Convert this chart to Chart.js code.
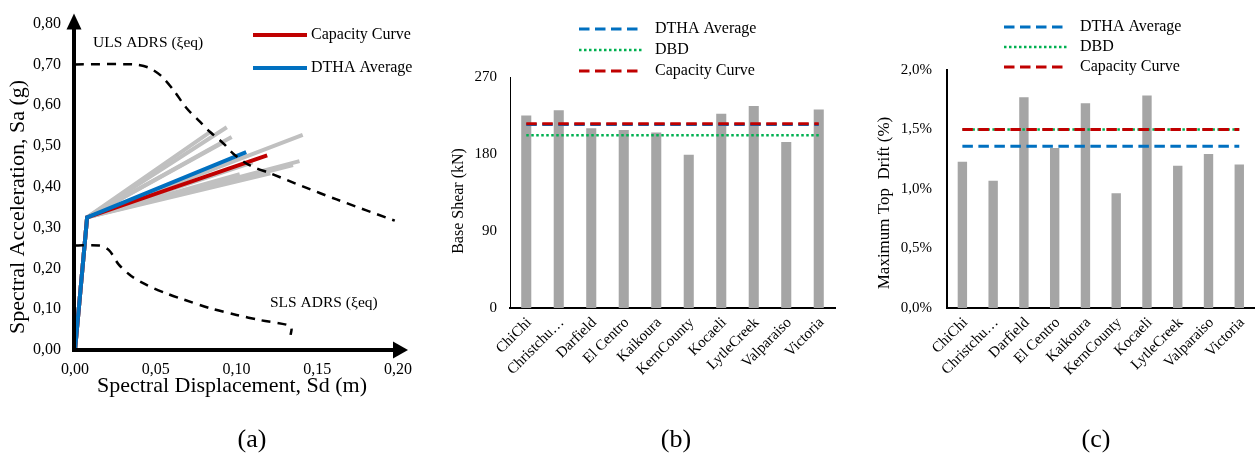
<!DOCTYPE html>
<html>
<head>
<meta charset="utf-8">
<script src="https://cdn.jsdelivr.net/npm/chart.js@4.4.1/dist/chart.umd.min.js"></script>
<style>
  body { margin: 0; background: #fff; }
  #wrap { position: relative; width: 1258px; height: 461px; font-family: "Liberation Serif", serif; }
  canvas { position: absolute; top: 0; }
  .tag { position: absolute; top: 424px; font-size: 26px; width: 60px; margin-left: -30px; text-align: center; color: #000; }
</style>
</head>
<body>
<div id="wrap">
  <canvas id="chartA" width="430" height="461" style="left:0;width:430px;height:461px"></canvas>
  <canvas id="chartB" width="420" height="461" style="left:430px;width:420px;height:461px"></canvas>
  <canvas id="chartC" width="408" height="461" style="left:850px;width:408px;height:461px"></canvas>
  <div class="tag" style="left:252px">(a)</div>
  <div class="tag" style="left:676px">(b)</div>
  <div class="tag" style="left:1096px">(c)</div>
</div>
<script>
// ── (a) Capacity curve vs ADRS ────────────────────────────────────────────────
const kneeSd = 0.0075, kneeSa = 0.325;
const capacitySd = [0, kneeSd, 0.119];
const capacitySa = [0, kneeSa, 0.477];
const dthaSd = [0, kneeSd, 0.106];
const dthaSa = [0, kneeSa, 0.485];
// end point of each record's response line (from the knee)
const recordEndSd = [0.094, 0.084, 0.097, 0.092, 0.141, 0.139, 0.135, 0.121, 0.102, 0.110];
const recordEndSa = [0.546, 0.535, 0.522, 0.509, 0.527, 0.463, 0.453, 0.433, 0.431, 0.460];
const ulsSd = [0, 0.036, 0.045, 0.053, 0.061, 0.069, 0.077, 0.0835, 0.092, 0.098, 0.108, 0.121, 0.141, 0.162, 0.198];
const ulsSa = [0.70, 0.70, 0.693, 0.673, 0.637, 0.593, 0.561, 0.535, 0.506, 0.481, 0.453, 0.433, 0.401, 0.369, 0.317];
const slsSd = [0, 0.015, 0.021, 0.027, 0.035, 0.044, 0.057, 0.067, 0.084, 0.100, 0.115, 0.131, 0.134, 0.1335];
const slsSa = [0.256, 0.256, 0.245, 0.210, 0.181, 0.160, 0.138, 0.124, 0.102, 0.086, 0.073, 0.062, 0.054, 0.037];

// ── (b),(c) per-record results ────────────────────────────────────────────────
const records = ['ChiChi', 'Christchu…', 'Darfield', 'El Centro', 'Kaikoura', 'KernCounty', 'Kocaeli', 'LytleCreek', 'Valparaiso', 'Victoria'];
const baseShear = [225, 231, 210, 208, 205, 179, 227, 236, 194, 232];
const shearDTHA = 214.5, shearDBD = 202, shearCapacity = 215.5;
const topDrift = [1.23, 1.07, 1.77, 1.345, 1.72, 0.965, 1.785, 1.195, 1.295, 1.205];
const driftDTHA = 1.36, driftDBD = 1.5, driftCapacity = 1.5;

const pts = (xs, ys) => xs.map((x, i) => ({ x, y: ys[i] }));
const comma = (v, d) => v.toFixed(d).replace('.', ',');

Chart.defaults.font.family = '"Liberation Serif", serif';
Chart.defaults.color = '#000';

const RED = '#c00000', BLUE = '#0070c0', GREEN = '#00b050', BAR = '#a5a5a5', LIGHT = '#c0c0c0';

// ── plugins ───────────────────────────────────────────────────────────────────
const texts = {
  id: 'texts',
  afterDraw(chart, args, o) {
    const ctx = chart.ctx;
    for (const t of o.items || []) {
      ctx.save();
      ctx.font = `${t.size}px "Liberation Serif"`;
      ctx.fillStyle = '#000';
      ctx.textAlign = t.align || 'center';
      ctx.textBaseline = 'middle';
      ctx.translate(t.x, t.y);
      if (t.rot) ctx.rotate(t.rot);
      ctx.fillText(t.text, 0, 0);
      ctx.restore();
    }
  },
};

const stackLegend = {
  id: 'stackLegend',
  afterDraw(chart, args, o) {
    if (!o.rows) return;
    const ctx = chart.ctx;
    o.rows.forEach((idx, i) => {
      const ds = chart.data.datasets[idx];
      const y = o.y + i * o.gap;
      ctx.save();
      ctx.strokeStyle = ds.borderColor;
      ctx.lineWidth = ds.borderWidth;
      ctx.setLineDash(ds.borderDash || []);
      ctx.beginPath();
      ctx.moveTo(o.x, y);
      ctx.lineTo(o.x + o.len, y);
      ctx.stroke();
      ctx.setLineDash([]);
      ctx.font = `${o.size}px "Liberation Serif"`;
      ctx.fillStyle = '#000';
      ctx.textBaseline = 'middle';
      ctx.fillText(ds.label, o.x + o.len + o.pad, y);
      ctx.restore();
    });
  },
};

const arrowAxes = {
  id: 'arrowAxes',
  afterDraw(chart) {
    const { ctx, chartArea: a, scales } = chart;
    const x0 = scales.x.getPixelForValue(0) - 1;
    const y0 = scales.y.getPixelForValue(0);
    ctx.save();
    ctx.strokeStyle = ctx.fillStyle = '#000';
    ctx.lineWidth = 4;
    ctx.beginPath();
    ctx.moveTo(x0, y0 + 2); ctx.lineTo(x0, a.top);
    ctx.moveTo(x0 - 2, y0); ctx.lineTo(a.right, y0);
    ctx.stroke();
    ctx.beginPath();
    ctx.moveTo(x0, a.top - 10); ctx.lineTo(x0 - 7.5, a.top + 6); ctx.lineTo(x0 + 7.5, a.top + 6);
    ctx.closePath(); ctx.fill();
    ctx.beginPath();
    ctx.moveTo(a.right + 10, y0); ctx.lineTo(a.right - 5, y0 - 8.5); ctx.lineTo(a.right - 5, y0 + 8.5);
    ctx.closePath(); ctx.fill();
    ctx.restore();
  },
};

const line = (label, xs, ys, color, width, order, dash) => ({
  label, data: pts(xs, ys), showLine: true, borderColor: color, backgroundColor: color,
  borderWidth: width, pointRadius: 0, order, borderDash: dash || [], tension: dash ? 0.3 : 0,
});

// ── Chart (a) ─────────────────────────────────────────────────────────────────
const recordLines = recordEndSd.map((sd, i) =>
  line('record ' + (i + 1), [0, kneeSd, sd], [0, kneeSa, recordEndSa[i]], LIGHT, 4, 5));

new Chart(document.getElementById('chartA'), {
  type: 'scatter',
  data: {
    datasets: [
      line('Capacity Curve', capacitySd, capacitySa, RED, 4, 2),
      line('DTHA Average', dthaSd, dthaSa, BLUE, 4, 1),
      line('ULS ADRS (ξeq)', ulsSd, ulsSa, '#000', 2.5, 0, [9, 7]),
      line('SLS ADRS (ξeq)', slsSd, slsSa, '#000', 2.5, 0, [9, 7]),
      ...recordLines,
    ],
  },
  plugins: [arrowAxes, texts, stackLegend],
  options: {
    responsive: false, animation: false,
    layout: { padding: { top: 18, right: 32, left: 0, bottom: 0 } },
    plugins: {
      legend: { display: false }, tooltip: { enabled: false },
      stackLegend: { rows: [0, 1], x: 253, y: 35, gap: 33, len: 54, pad: 4, size: 16 },
      texts: { items: [
        { text: 'Spectral Acceleration, Sa (g)', x: 18, y: 207, size: 22, rot: -Math.PI / 2 },
        { text: 'Spectral Displacement, Sd (m)', x: 232, y: 386, size: 22 },
        { text: 'ULS ADRS (ξeq)', x: 93, y: 43, size: 15.5, align: 'left' },
        { text: 'SLS ADRS (ξeq)', x: 270, y: 303, size: 15.5, align: 'left' },
      ] },
    },
    scales: {
      x: {
        type: 'linear', min: 0, max: 0.2,
        grid: { display: false, drawTicks: false }, border: { display: false },
        ticks: { stepSize: 0.05, padding: 10, font: { size: 16 }, callback: v => comma(v, 2) },
        afterFit: s => { s.height = 111; },
      },
      y: {
        min: 0, max: 0.8,
        grid: { display: false, drawTicks: false }, border: { display: false },
        ticks: { stepSize: 0.1, padding: 14, font: { size: 16 }, callback: v => comma(v, 2) },
        afterFit: s => { s.width = 75; },
      },
    },
  },
});

// ── Bar + reference lines (b),(c) ─────────────────────────────────────────────
const refLine = (label, value, color, width, dash, order) => ({
  type: 'line', label, data: records.map(() => value), borderColor: color,
  borderWidth: width, borderDash: dash, pointRadius: 0, order,
});

function barChart(id, values, dtha, dbd, cap, y, legendX, legendY, legendGap, titles, pad) {
  return new Chart(document.getElementById(id), {
    type: 'bar',
    data: {
      labels: records,
      datasets: [
        { label: 'values', data: values, backgroundColor: BAR, barPercentage: pad.bar, categoryPercentage: 1, order: 10 },
        refLine('DTHA Average', dtha, BLUE, 3, [10.5, 5.5], 3),
        refLine('DBD', dbd, GREEN, 2.5, [2.5, 2.5], 2),
        refLine('Capacity Curve', cap, RED, 3, [10.5, 5.5], 1),
      ],
    },
    plugins: [texts, stackLegend],
    options: {
      responsive: false, animation: false,
      layout: { padding: { top: pad.top, right: pad.right, left: 0, bottom: 0 } },
      plugins: {
        legend: { display: false }, tooltip: { enabled: false },
        stackLegend: { rows: [1, 2, 3], x: legendX, y: legendY, gap: legendGap, len: 64, pad: 12, size: 16 },
        texts: { items: titles },
      },
      scales: {
        x: {
          grid: { display: false, drawTicks: false },
          border: { display: true, color: '#000', width: 2 },
          ticks: { minRotation: 45, maxRotation: 45, autoSkip: false, padding: 6, labelOffset: 3, font: { size: 15 } },
          afterFit: s => { s.height = 153; },
        },
        y: {
          ...y,
          grid: { display: false, drawTicks: false },
          border: { display: true, color: '#000', width: pad.yBorder },
          afterFit: s => { s.width = pad.axis; },
        },
      },
    },
  });
}

barChart('chartB', baseShear, shearDTHA, shearDBD, shearCapacity,
  { min: 0, max: 270, ticks: { stepSize: 90, padding: 13, font: { size: 15 } } },
  149, 29, 21,
  [{ text: 'Base Shear (kN)', x: 28.5, y: 201, size: 16, rot: -Math.PI / 2 }],
  { top: 77, right: 15, axis: 80, bar: 0.31, yBorder: 1 });

barChart('chartC', topDrift, driftDTHA, driftDBD, driftCapacity,
  { min: 0, max: 2, ticks: { stepSize: 0.5, padding: 15, font: { size: 15 }, callback: v => comma(v, 1) + '%' } },
  154, 27, 20,
  [{ text: 'Maximum Top  Drift (%)', x: 35, y: 203, size: 17, rot: -Math.PI / 2 }],
  { top: 70, right: 0, axis: 97, bar: 0.305, yBorder: 2 });
</script>
</body>
</html>
